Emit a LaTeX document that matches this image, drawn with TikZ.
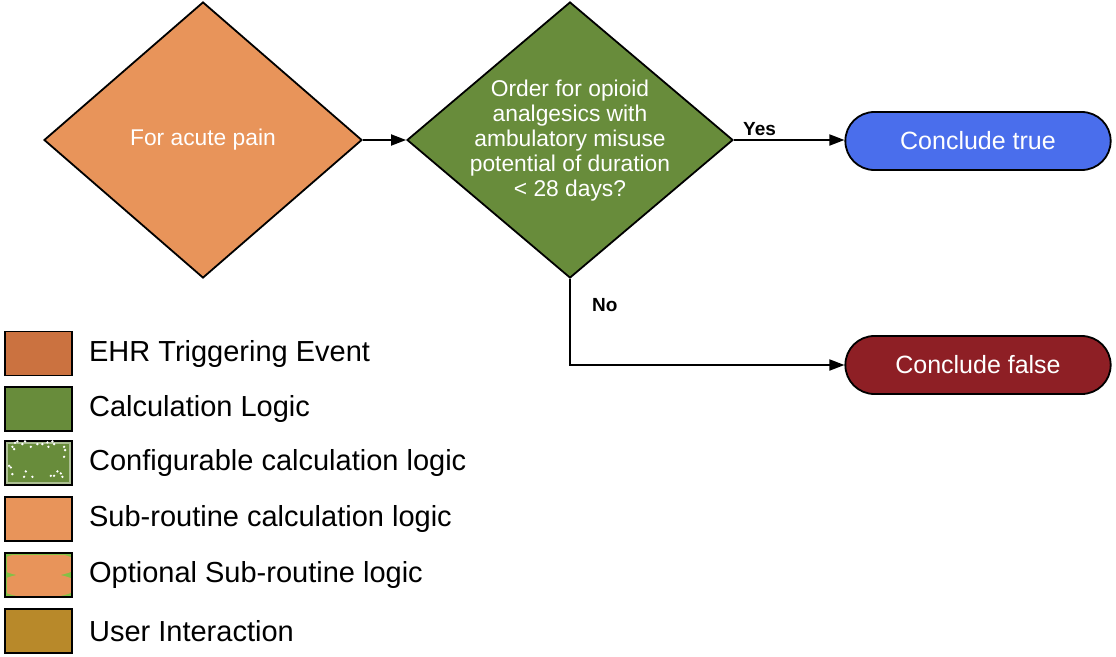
\documentclass[tikz,border=0pt]{standalone}
\usepackage{fontspec}
\setmainfont{Liberation Sans}
\usepackage{tikz}
\usetikzlibrary{positioning,calc}
\usetikzlibrary{shapes,arrows.meta}
\definecolor{ehrorange}{HTML}{CB7240}
\definecolor{calcgreen}{HTML}{688C3B}
\definecolor{suborange}{HTML}{E8945A}
\definecolor{optgreen}{HTML}{84C046}
\definecolor{usergold}{HTML}{B8892A}
\definecolor{trueblue}{HTML}{4A6EEC}
\definecolor{falsered}{HTML}{8E1F25}
\tikzset{
  decision/.style={diamond, draw, line width=1.8pt, inner sep=0pt},
  dtext/.style={align=center, text=white, inner sep=0pt, font=\fontsize{22.8}{25}\selectfont},
  conclude/.style={rounded rectangle, draw, line width=1.8pt, minimum width=272pt, minimum height=58pt, text=white, font=\fontsize{25}{30}\selectfont},
  swatch/.style={rectangle, draw, line width=1.8pt, minimum width=67pt, minimum height=44pt, inner sep=0pt},
  legendtext/.style={inner sep=0pt, font=\fontsize{29}{32}\selectfont},
  flow/.style={line width=1.8pt, -{Triangle[length=15pt,width=11pt]}},
  answer/.style={font=\bfseries\fontsize{19}{22}\selectfont}
}
\begin{document}
\begin{tikzpicture}[x=1pt,y=-1pt]
  \useasboundingbox (0,0) rectangle (1116,656);

  \node[decision, fill=suborange, minimum width=318pt, minimum height=276pt] (acute) at (203,140) {};
  \node[dtext] (acutetext) at (acute.center) {For acute pain};
  \node[decision, fill=calcgreen, minimum width=326pt, minimum height=276pt] (order) at (570,140) {};
  \node[dtext] (ordertext) at ([yshift=-1pt]order.center) {Order for opioid\\analgesics with\\ambulatory misuse\\potential of duration\\< 28 days?};

  \node[conclude, fill=trueblue] (true) at (978,141) {Conclude true};
  \node[conclude, fill=falsered] (false) at (978,365) {Conclude false};

  \draw[flow] (acute.east) -- (order.west);
  \draw[flow] (order.east) -- node[answer, above right, pos=0, xshift=5pt] {Yes} (order.east -| true.west);
  \draw[flow] (order.south) |- node[answer, right=18pt, pos=0.15] {No} (false.west);

  \node[swatch, fill=ehrorange] (ehr) at (38.5,353.5) {};
  \node[legendtext, right=16pt of ehr] (ehrtext) {EHR Triggering Event};
  \node[swatch, fill=calcgreen] (calc) at (38.5,409) {};
  \node[legendtext, right=16pt of calc] (calctext) {Calculation Logic};
  \node[swatch, fill=calcgreen] (config) at (38.5,463) {};
  \draw[white, opacity=0.45, line width=2.5pt] ($(config.north west)+(3,3)$) rectangle ($(config.south east)+(-3,-3)$);
  \foreach \x/\y in {8.3/6.7,11/2.7,13.3/1.3,18.3/4,21/1.3,26.7/6.7,33.3/4,38.3/4,43.3/2.3,44.3/6.7,48.3/1.3,50/4,60/6.7,61/10,60/16.7,5/25.7,6.7/27.3,8.3/34,21.7/31.3,20/36.7,28.3/36.7,46.7/35.7,50/35.7,53.3/31.3,56.7/33.3,58.3/36.7,10/9}
    \fill[white] ($(config.north west)+(\x,\y)$) circle (1.3pt);
  \node[legendtext, right=16pt of config] (configtext) {Configurable calculation logic};
  \node[swatch, fill=suborange] (sub) at (38.5,519) {};
  \node[legendtext, right=16pt of sub] (subtext) {Sub-routine calculation logic};
  \node[swatch, fill=optgreen] (optional) at (38.5,575) {};
  \begin{scope}
    \clip ($(optional.north west)+(3,3)$) rectangle ($(optional.south east)+(-2,-2)$);
    \fill[suborange] ($(optional.center)+(0,-10.5)$) ellipse [x radius=40pt, y radius=12.5pt];
    \fill[suborange] ($(optional.center)+(0,10.5)$) ellipse [x radius=40pt, y radius=12.5pt];
  \end{scope}
  \node[legendtext, right=16pt of optional] (optionaltext) {Optional Sub-routine logic};
  \node[swatch, fill=usergold] (user) at (38.5,631) {};
  \node[legendtext, right=16pt of user] (usertext) {User Interaction};
\end{tikzpicture}
\end{document}
